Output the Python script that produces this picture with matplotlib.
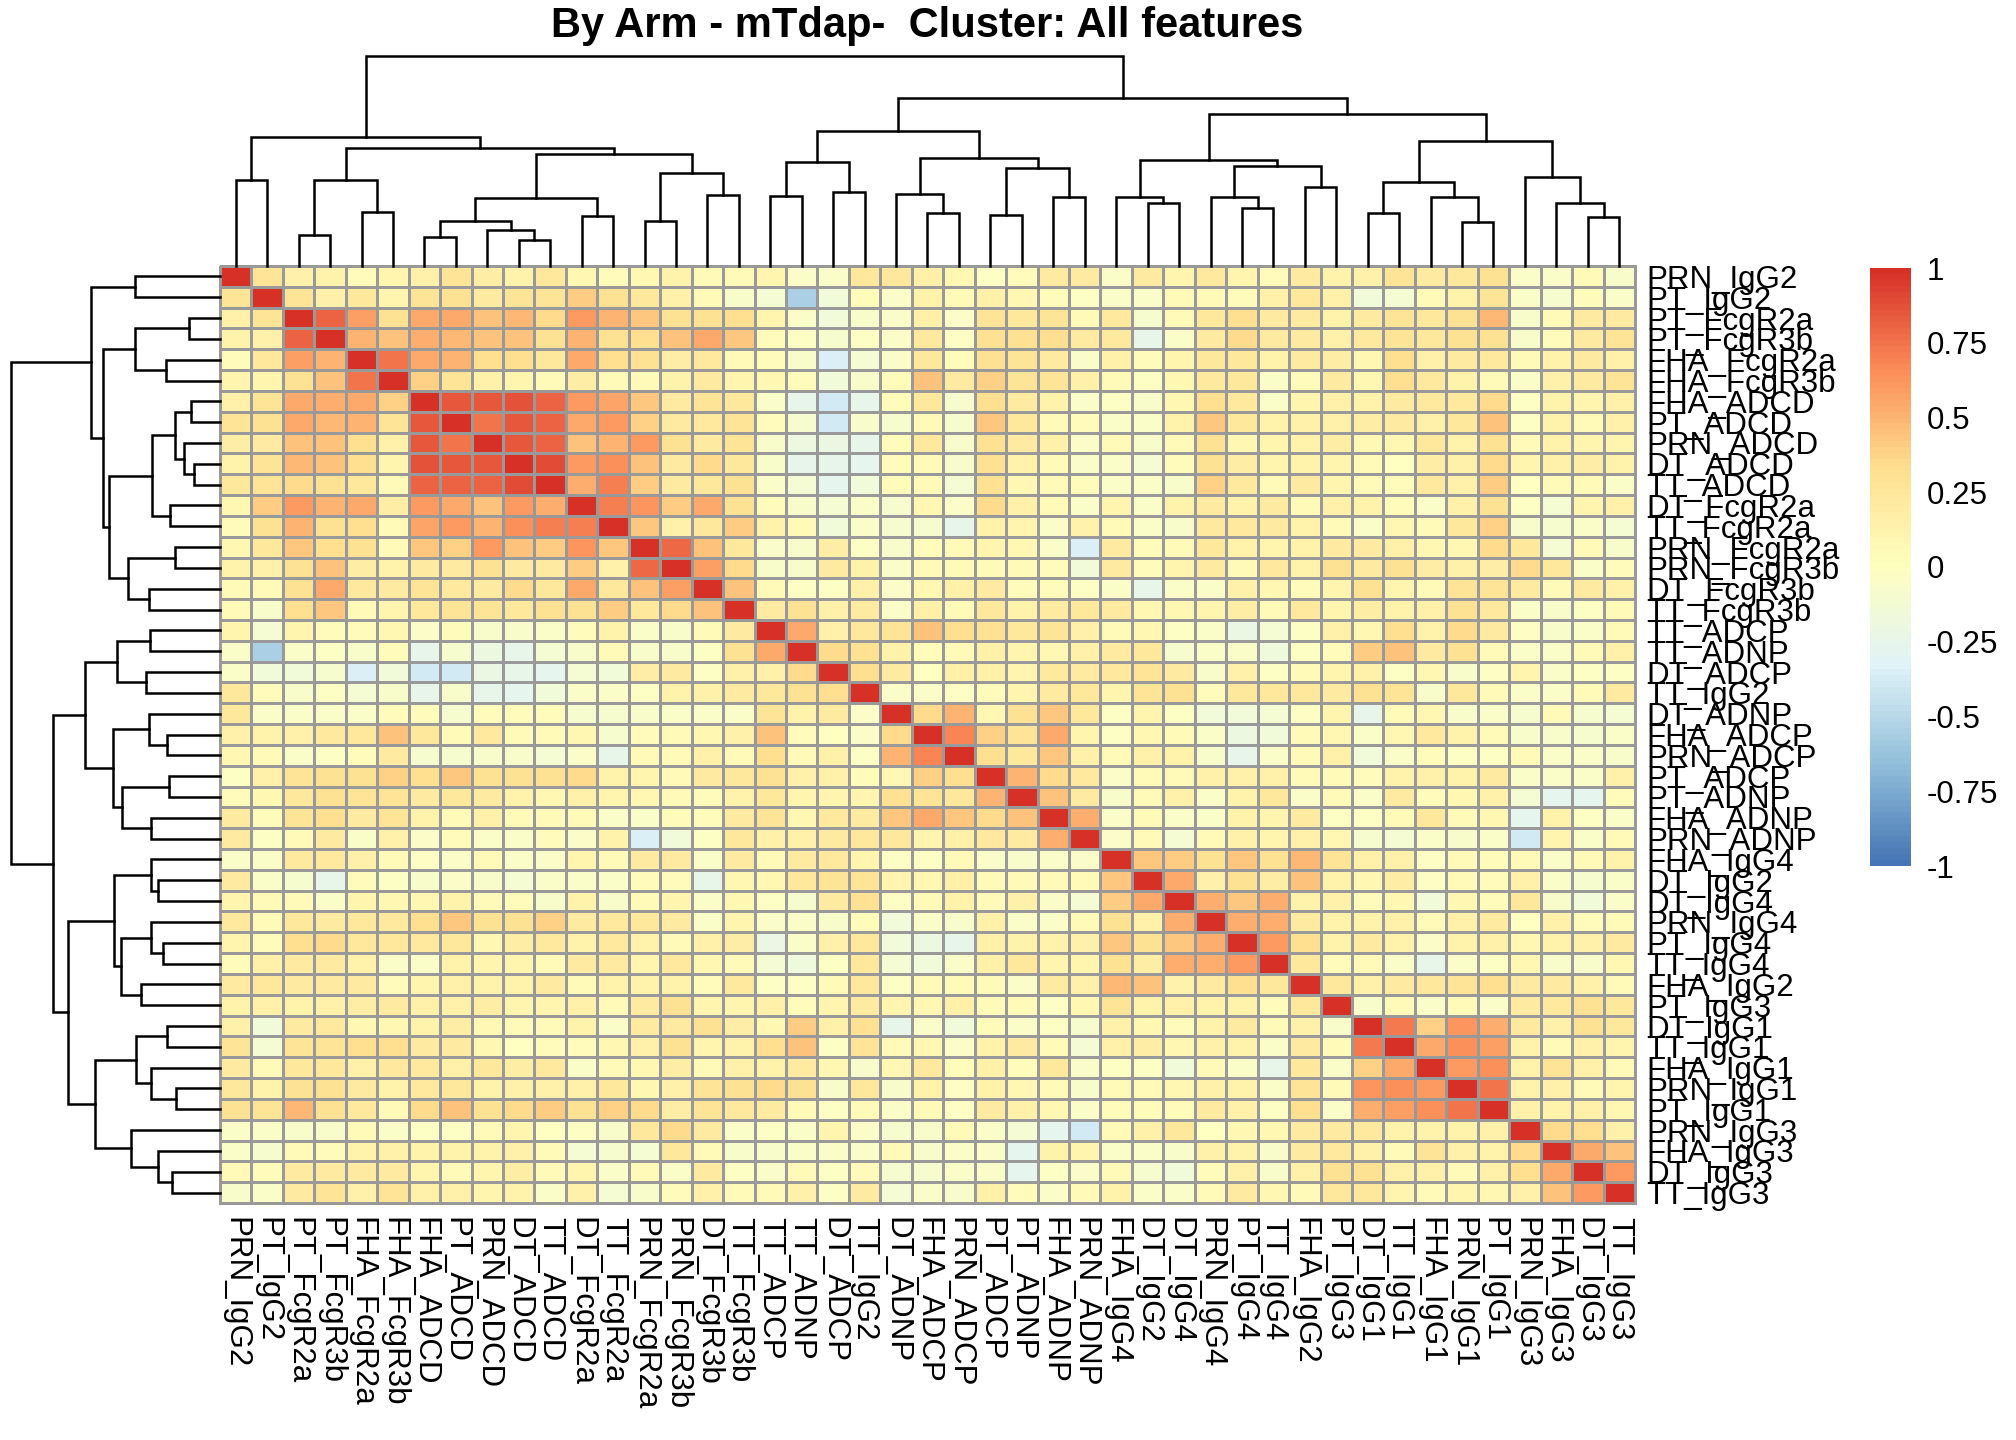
import numpy as np
import matplotlib
matplotlib.use('Agg')
import matplotlib.pyplot as plt
from matplotlib.colors import LinearSegmentedColormap

plt.rcParams['font.family'] = ['Liberation Sans', 'DejaVu Sans']

title = 'By Arm - mTdap-  Cluster: All features'

labels = ['PRN_IgG2', 'PT_IgG2', 'PT_FcgR2a', 'PT_FcgR3b', 'FHA_FcgR2a', 'FHA_FcgR3b',
          'FHA_ADCD', 'PT_ADCD', 'PRN_ADCD', 'DT_ADCD', 'TT_ADCD', 'DT_FcgR2a', 'TT_FcgR2a',
          'PRN_FcgR2a', 'PRN_FcgR3b', 'DT_FcgR3b', 'TT_FcgR3b', 'TT_ADCP', 'TT_ADNP',
          'DT_ADCP', 'TT_IgG2', 'DT_ADNP', 'FHA_ADCP', 'PRN_ADCP', 'PT_ADCP', 'PT_ADNP',
          'FHA_ADNP', 'PRN_ADNP', 'FHA_IgG4', 'DT_IgG2', 'DT_IgG4', 'PRN_IgG4', 'PT_IgG4',
          'TT_IgG4', 'FHA_IgG2', 'PT_IgG3', 'DT_IgG1', 'TT_IgG1', 'FHA_IgG1', 'PRN_IgG1',
          'PT_IgG1', 'PRN_IgG3', 'FHA_IgG3', 'DT_IgG3', 'TT_IgG3']

# upper triangle of the correlation matrix, row i holds columns i+1 .. end
upper = [
    [0.28, 0.15, 0.12, 0.02, 0.10, 0.15, 0.28, 0.18, 0.12, 0.25, 0.08, 0.02, 0.08, 0.12,
     0.05, 0.05, 0.10, -0.05, -0.05, 0.25, 0.25, 0.15, 0.08, -0.03, 0.03, 0.20, 0.20, -0.05, 0.20,
     0.10, 0.22, 0.10, 0.03, 0.20, 0.12, 0.15, 0.28, 0.20, 0.25, 0.30, -0.05, -0.05, 0.05, -0.08],
    [0.28, 0.15, 0.25, 0.10, 0.28, 0.30, 0.20, 0.28, 0.28, 0.40, 0.30, 0.25, 0.15,
     0.05, -0.08, -0.12, -0.55, -0.15, 0.03, -0.05, 0.12, 0.05, 0.15, 0.08, 0.02, -0.03, -0.05, -0.05,
     0.05, 0.05, 0.02, 0.15, 0.25, 0.15, -0.15, -0.12, 0.05, 0.12, 0.28, -0.05, -0.10, 0.03, -0.05],
    [0.82, 0.58, 0.30, 0.55, 0.55, 0.45, 0.48, 0.35, 0.60, 0.50, 0.42, 0.30,
     0.30, 0.32, 0.10, -0.05, -0.15, -0.08, -0.05, 0.15, -0.05, 0.28, 0.25, 0.28, 0.05, 0.22, -0.10,
     0.05, 0.25, 0.32, 0.20, 0.20, 0.12, 0.20, 0.28, 0.25, 0.30, 0.48, -0.08, 0.05, 0.20, 0.20],
    [0.50, 0.45, 0.52, 0.48, 0.45, 0.45, 0.30, 0.50, 0.30, 0.32, 0.45,
     0.55, 0.42, 0.02, -0.03, -0.10, -0.03, -0.05, 0.22, -0.03, 0.30, 0.30, 0.32, 0.20, 0.22, -0.25,
     -0.05, 0.20, 0.35, 0.20, 0.20, 0.15, 0.22, 0.28, 0.25, 0.30, 0.30, -0.08, 0.02, 0.20, 0.28],
    [0.75, 0.55, 0.50, 0.32, 0.32, 0.25, 0.55, 0.32, 0.30, 0.18,
     0.22, 0.05, 0.03, -0.08, -0.35, -0.12, -0.06, 0.25, 0.03, 0.30, 0.28, 0.20, -0.05, 0.15, 0.03,
     0.10, 0.25, 0.25, 0.12, 0.20, 0.18, 0.08, 0.32, 0.15, 0.20, 0.22, 0.05, 0.12, 0.20, 0.15],
    [0.38, 0.28, 0.15, 0.10, 0.05, 0.18, 0.05, 0.05, 0.12,
     0.20, 0.10, 0.08, 0.02, -0.15, -0.08, 0.03, 0.45, 0.20, 0.38, 0.28, 0.28, 0.15, 0.05, -0.03,
     0.08, 0.22, 0.25, -0.05, 0.02, 0.20, 0.08, 0.32, 0.22, 0.12, 0.05, -0.05, 0.15, 0.20, 0.28],
    [0.84, 0.84, 0.87, 0.80, 0.60, 0.56, 0.42, 0.20,
     0.28, 0.25, -0.05, -0.25, -0.40, -0.25, 0.02, 0.25, -0.10, 0.32, 0.20, 0.12, -0.05, -0.03, -0.08,
     0.08, 0.32, 0.22, -0.05, 0.10, 0.15, 0.12, 0.20, 0.22, 0.22, 0.35, -0.03, 0.12, 0.10, 0.15],
    [0.75, 0.85, 0.82, 0.55, 0.60, 0.38, 0.20,
     0.22, 0.28, 0.03, -0.10, -0.40, -0.08, -0.10, 0.05, -0.10, 0.42, 0.25, 0.05, 0.03, -0.05, -0.05,
     0.12, 0.42, 0.25, 0.12, 0.15, 0.15, 0.18, 0.20, 0.15, 0.25, 0.45, -0.03, 0.12, 0.05, 0.15],
    [0.84, 0.80, 0.45, 0.50, 0.60, 0.30,
     0.20, 0.28, -0.08, -0.20, -0.22, -0.25, 0.03, 0.22, -0.08, 0.30, 0.20, 0.15, -0.05, 0.05, -0.08,
     0.05, 0.30, 0.08, 0.10, 0.12, 0.18, 0.06, 0.08, 0.25, 0.12, 0.30, 0.05, 0.12, 0.10, 0.10],
    [0.88, 0.60, 0.65, 0.45, 0.20,
     0.35, 0.25, -0.08, -0.25, -0.25, -0.28, 0.03, 0.05, -0.08, 0.30, 0.12, 0.05, -0.05, -0.05, -0.12,
     0.02, 0.30, 0.18, 0.10, 0.12, 0.10, 0.05, -0.02, 0.18, 0.15, 0.35, 0.10, 0.15, 0.18, 0.12],
    [0.52, 0.70, 0.40, 0.20,
     0.25, 0.30, -0.05, -0.12, -0.28, -0.15, 0.03, 0.05, -0.12, 0.30, 0.08, 0.05, 0.03, -0.05, -0.05,
     -0.08, 0.38, 0.22, 0.05, 0.20, 0.10, 0.05, 0.03, 0.22, 0.15, 0.40, -0.02, 0.05, 0.05, -0.05],
    [0.70, 0.62, 0.40,
     0.55, 0.30, 0.02, -0.08, -0.12, -0.05, -0.10, 0.08, -0.05, 0.35, 0.15, 0.05, -0.05, 0.10, -0.05,
     0.12, 0.20, 0.12, 0.20, 0.05, 0.15, 0.12, 0.03, -0.05, 0.15, 0.30, -0.03, -0.12, 0.10, 0.15],
    [0.42, 0.15,
     0.25, 0.40, 0.12, 0.05, -0.15, -0.05, -0.10, -0.10, -0.25, 0.12, 0.10, -0.05, 0.12, 0.05, -0.05,
     -0.08, 0.22, 0.22, 0.20, 0.12, 0.05, -0.05, 0.08, 0.05, 0.25, 0.38, -0.08, -0.10, -0.05, -0.12],
    [0.78,
     0.45, 0.25, -0.05, -0.08, 0.18, -0.03, -0.08, 0.03, 0.05, 0.10, 0.08, -0.05, -0.35, 0.20, 0.02,
     0.05, 0.25, 0.12, 0.10, 0.12, 0.20, 0.20, 0.15, 0.08, 0.08, 0.35, 0.25, -0.12, 0.05, -0.08],
    [0.58, 0.35, -0.08, -0.08, 0.20, 0.12, -0.06, 0.05, 0.05, 0.05, 0.05, 0.02, -0.15, 0.20, 0.03,
     0.10, 0.20, 0.05, 0.22, 0.12, 0.30, 0.20, 0.30, 0.18, 0.15, 0.18, 0.35, 0.25, -0.05, 0.02],
    [0.45, 0.05, -0.03, -0.03, 0.15, -0.05, 0.08, 0.15, 0.20, 0.03, 0.03, -0.03, -0.05, -0.25,
     -0.05, -0.05, 0.15, 0.08, 0.03, 0.10, 0.30, 0.10, 0.05, 0.28, 0.28, 0.20, 0.05, 0.20, 0.15],
    [0.20, 0.30, 0.15, 0.20, -0.05, 0.15, 0.05, 0.25, 0.12, 0.20, 0.25, 0.20, 0.08,
     0.08, 0.10, 0.18, 0.05, 0.22, 0.10, 0.18, 0.12, 0.15, 0.30, 0.22, -0.05, -0.08, -0.03, 0.05],
    [0.55, 0.15, 0.25, 0.28, 0.45, 0.32, 0.30, 0.25, 0.28, 0.15, 0.05, 0.08,
     -0.03, -0.05, -0.22, -0.12, -0.03, 0.15, 0.08, 0.32, 0.12, 0.35, 0.20, -0.03, -0.08, -0.05, 0.05],
    [0.35, 0.30, 0.12, 0.03, 0.05, 0.15, 0.10, 0.08, 0.15, 0.20, 0.25,
     -0.10, -0.05, -0.05, -0.18, -0.03, 0.02, 0.40, 0.45, 0.20, 0.30, 0.05, -0.05, -0.05, 0.05, 0.15],
    [0.32, 0.20, -0.02, 0.15, 0.15, 0.10, 0.22, 0.20, 0.22, 0.28,
     0.20, -0.08, 0.15, -0.03, 0.05, 0.10, 0.15, -0.03, 0.08, -0.08, -0.03, 0.10, -0.05, -0.03, -0.03],
    [-0.05, -0.05, -0.03, 0.03, 0.10, 0.20, 0.25, 0.10, 0.28,
     0.30, 0.03, 0.25, 0.25, 0.25, 0.20, 0.30, 0.28, -0.08, 0.25, 0.05, -0.05, -0.05, 0.05, 0.20],
    [0.35, 0.50, 0.08, 0.30, 0.42, 0.25, -0.03, 0.10,
     -0.03, -0.15, -0.15, -0.12, -0.03, 0.10, -0.25, 0.05, 0.08, -0.08, -0.05, -0.10, 0.05, -0.10, -0.12],
    [0.68, 0.38, 0.28, 0.55, 0.10, -0.03, 0.08,
     0.05, -0.05, -0.20, -0.15, 0.05, 0.08, -0.05, 0.08, 0.22, 0.12, 0.05, -0.08, -0.08, -0.10, -0.05],
    [0.32, 0.25, 0.42, 0.15, 0.05, 0.15,
     0.12, -0.08, -0.25, -0.05, 0.05, 0.15, -0.15, -0.05, 0.03, -0.03, -0.03, 0.05, -0.05, -0.05, -0.08],
    [0.50, 0.35, 0.22, -0.05, 0.05,
     0.05, 0.15, 0.15, 0.15, 0.05, 0.05, 0.03, 0.12, 0.15, 0.12, 0.20, -0.05, -0.05, -0.05, 0.15],
    [0.45, 0.20, -0.08, 0.05,
     0.15, -0.05, 0.12, 0.25, -0.05, 0.05, -0.05, 0.20, 0.02, 0.08, 0.15, -0.12, -0.28, -0.28, 0.02],
    [0.52, -0.05, 0.05,
     -0.05, -0.05, 0.12, 0.10, 0.20, -0.03, -0.03, 0.05, 0.25, 0.05, 0.08, -0.28, 0.12, -0.03, -0.05],
    [-0.05, 0.05,
     -0.12, 0.05, 0.15, 0.10, 0.15, 0.08, -0.10, -0.12, -0.05, -0.08, -0.05, -0.40, 0.10, -0.05, 0.05],
    [0.42,
     0.40, 0.30, 0.42, 0.30, 0.48, 0.28, 0.15, 0.15, -0.03, 0.05, 0.03, 0.05, -0.05, 0.05, 0.12],
    [0.55, 0.15, 0.30, 0.18, 0.45, 0.12, 0.08, 0.18, -0.03, 0.05, 0.03, 0.15, -0.05, -0.10, -0.05],
    [0.52, 0.42, 0.52, 0.12, 0.15, 0.03, 0.08, -0.15, 0.08, 0.03, 0.25, -0.08, -0.15, -0.05],
    [0.52, 0.52, 0.20, 0.12, 0.12, 0.15, 0.05, 0.15, 0.20, -0.02, 0.15, 0.03, 0.05],
    [0.60, 0.32, 0.12, 0.20, 0.12, -0.05, 0.12, 0.15, 0.08, 0.12, 0.15, 0.20],
    [0.25, 0.02, 0.05, -0.05, -0.25, -0.05, -0.03, 0.08, -0.08, -0.08, 0.08],
    [0.25, 0.15, 0.20, 0.25, 0.28, 0.32, 0.20, 0.20, 0.15, 0.05],
    [-0.08, 0.05, -0.05, 0.05, -0.05, 0.20, 0.22, 0.30, 0.25],
    [0.72, 0.38, 0.62, 0.52, 0.22, 0.15, 0.30, 0.25],
    [0.55, 0.65, 0.58, 0.12, 0.05, 0.15, 0.10],
    [0.60, 0.65, 0.12, 0.28, 0.15, 0.05],
    [0.75, 0.12, 0.15, 0.05, 0.10],
    [0.15, 0.12, 0.15, 0.08],
    [0.35, 0.32, 0.15],
    [0.55, 0.45],
    [0.60],
]

# clustering tree: (height, left, right), leaves are positions in labels
tree = (1.0,
        (0.615,
         (0.409, 0, 1),
         (0.562,
          (0.409, (0.148, 2, 3), (0.256, 4, 5)),
          (0.533,
           (0.325, (0.213, (0.137, 6, 7), (0.170, 8, (0.126, 9, 10))), (0.237, 11, 12)),
           (0.441, (0.213, 13, 14), (0.338, 15, 16))))),
        (0.801,
         (0.645,
          (0.495, (0.334, 17, 18), (0.352, 19, 20)),
          (0.514, (0.342, 21, (0.252, 22, 23)),
           (0.467, (0.244, 24, 25), (0.330, 26, 27)))),
         (0.726,
          (0.506, (0.330, 28, (0.299, 29, 30)),
           (0.476, (0.330, 31, (0.275, 32, 33)), (0.377, 34, 35))),
          (0.597, (0.401, (0.252, 36, 37), (0.330, 38, (0.209, 39, 40))),
           (0.425, 41, (0.299, 42, (0.232, 43, 44)))))))

legend_ticks = [-1, -0.75, -0.5, -0.25, 0, 0.25, 0.5, 0.75, 1]
legend_labels = ['-1', '-0.75', '-0.5', '-0.25', '0', '0.25', '0.5', '0.75', '1']

n = len(labels)
corr = np.eye(n)
for i, row in enumerate(upper):
    corr[i, i + 1:i + 1 + len(row)] = row
    corr[i + 1:i + 1 + len(row), i] = row

cmap = LinearSegmentedColormap.from_list(
    'rdylbu', ['#4575B4', '#91BFDB', '#E0F3F8', '#FFFFBF', '#FEE090', '#FC8D59', '#D73027'], N=100)

W, H = 2016, 1440
fig = plt.figure(figsize=(W / 100, H / 100), dpi=100)


def box(x0, y0, x1, y1):
    return [x0 / W, 1 - y1 / H, (x1 - x0) / W, (y1 - y0) / H]


ax = fig.add_axes(box(220, 266, 1635, 1203))
ax_top = fig.add_axes(box(220, 56, 1635, 266))
ax_left = fig.add_axes(box(11, 266, 220, 1203))
ax_cb = fig.add_axes(box(1870, 268, 1910, 866))

mesh = ax.pcolormesh(np.arange(n + 1), np.arange(n + 1), corr, cmap=cmap, vmin=-1, vmax=1,
                     edgecolors='#999999', linewidth=1.9)
mesh.set_clip_on(False)
ax.set_xlim(0, n)
ax.set_ylim(n, 0)
for s in ax.spines.values():
    s.set_visible(False)
ax.set_xticks(np.arange(n) + 0.5)
ax.set_xticklabels(labels, rotation=270, fontsize=22.5)
ax.yaxis.tick_right()
ax.set_yticks(np.arange(n) + 0.5)
ax.set_yticklabels(labels, fontsize=22.5)
ax.tick_params(axis='x', length=0, pad=10)
ax.tick_params(axis='y', length=0, pad=8)


def draw_tree(a, node, horizontal):
    if isinstance(node, int):
        return node + 0.5, 0.0
    h, l, r = node
    xl, hl = draw_tree(a, l, horizontal)
    xr, hr = draw_tree(a, r, horizontal)
    xs = [xl, xl, xr, xr]
    ys = [hl, h, h, hr]
    if horizontal:
        a.plot(xs, ys, color='black', lw=1.8, clip_on=False, solid_joinstyle='miter')
    else:
        a.plot(ys, xs, color='black', lw=1.8, clip_on=False, solid_joinstyle='miter')
    return (xl + xr) / 2, h


draw_tree(ax_top, tree, True)
ax_top.set_xlim(0, n)
ax_top.set_ylim(0, 1.0)
ax_top.axis('off')

draw_tree(ax_left, tree, False)
ax_left.set_xlim(1.0, 0)
ax_left.set_ylim(n, 0)
ax_left.axis('off')

grad = np.linspace(-1, 1, 100).reshape(-1, 1)
ax_cb.imshow(grad, aspect='auto', cmap=cmap, vmin=-1, vmax=1, origin='lower', extent=[0, 1, -1, 1])
ax_cb.set_ylim(-1, 1)
ax_cb.set_xticks([])
ax_cb.yaxis.tick_right()
ax_cb.set_yticks(legend_ticks)
ax_cb.set_yticklabels(legend_labels, fontsize=22.5)
ax_cb.tick_params(axis='y', length=0, pad=12)
for s in ax_cb.spines.values():
    s.set_visible(False)

fig.text(927 / W, 1 - 26 / H, title, ha='center', va='center', fontsize=30, fontweight='bold')

fig.savefig('out.png', dpi=100)
